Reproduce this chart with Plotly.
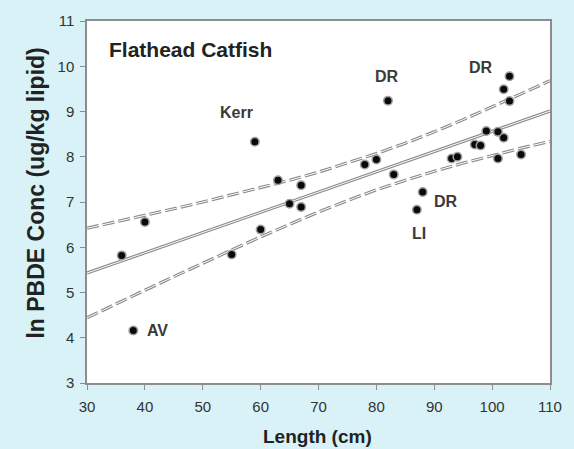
import plotly.graph_objects as go

# Observed fish data
length_cm = [36, 40, 38, 55, 60, 59, 63, 65, 67, 67, 78, 80, 82, 83, 88, 87,
             93, 94, 97, 98, 99, 101, 102, 103, 102, 103, 101, 105]
ln_pbde = [5.82, 6.56, 4.16, 5.84, 6.39, 8.33, 7.48, 6.96, 7.37, 6.89, 7.83, 7.94,
           9.24, 7.61, 7.22, 6.83, 7.96, 8.00, 8.27, 8.25, 8.57, 8.55, 8.42, 9.78,
           9.49, 9.23, 7.96, 8.05]

# Regression line and confidence band
fit_x = [30, 110]
fit_y = [5.43, 9.01]
band_x = [30, 35, 40, 45, 50, 55, 60, 65, 70, 75, 80, 85, 90, 95, 100, 105, 110]
band_upper = [6.42, 6.56, 6.71, 6.85, 7.00, 7.16, 7.32, 7.48, 7.66, 7.86, 8.07,
              8.30, 8.55, 8.82, 9.10, 9.39, 9.68]
band_lower = [4.44, 4.75, 5.05, 5.35, 5.65, 5.94, 6.23, 6.51, 6.78, 7.03, 7.27,
              7.48, 7.68, 7.86, 8.03, 8.19, 8.34]

# Point labels
label_text = ["Kerr", "DR", "DR", "DR", "LI", "AV"]
label_x = [55.8, 81.9, 98.0, 92.0, 87.4, 42.2]
label_y = [8.97, 9.77, 9.97, 7.02, 6.30, 4.16]

x_ticks = [30, 40, 50, 60, 70, 80, 90, 100, 110]
y_ticks = [3, 4, 5, 6, 7, 8, 9, 10, 11]

FONT = "Liberation Sans, Arial, sans-serif"
fig = go.Figure()

def hollow_line(x, y, dash):
    fig.add_trace(go.Scatter(x=x, y=y, mode="lines",
                             line=dict(color="#8a8a8a", width=3.2, dash=dash),
                             hoverinfo="skip", showlegend=False))
    fig.add_trace(go.Scatter(x=x, y=y, mode="lines",
                             line=dict(color="#ffffff", width=1.0, dash=dash),
                             hoverinfo="skip", showlegend=False))

hollow_line(band_x, band_upper, "12px,4px")
hollow_line(band_x, band_lower, "12px,4px")
hollow_line(fit_x, fit_y, "solid")

fig.add_trace(go.Scatter(
    x=length_cm, y=ln_pbde, mode="markers",
    marker=dict(size=8.5, color="#0a0a0a", line=dict(color="#a0a0a0", width=1.5)),
    showlegend=False))

for t, xx, yy in zip(label_text, label_x, label_y):
    fig.add_annotation(x=xx, y=yy, text="<b>" + t + "</b>", showarrow=False,
                       xanchor="center", yanchor="middle",
                       font=dict(family=FONT, size=16, color="#3a3a3a"))

fig.add_annotation(x=33.4, y=10.36, text="<b>Flathead Catfish</b>", showarrow=False,
                   xanchor="left", yanchor="middle",
                   font=dict(family=FONT, size=21, color="#222222"))

# Axis titles
fig.add_annotation(xref="paper", yref="paper", x=0.497, y=-0.148,
                   text="<b>Length (cm)</b>", showarrow=False,
                   xanchor="center", yanchor="middle",
                   font=dict(family=FONT, size=19, color="#222222"))
fig.add_annotation(xref="paper", yref="paper", x=-0.111, y=0.525,
                   text="<b>ln PBDE Conc (ug/kg lipid)</b>", showarrow=False,
                   textangle=-90, xanchor="center", yanchor="middle",
                   font=dict(family=FONT, size=23, color="#222222"))

axis_common = dict(showgrid=False, zeroline=False, showline=True, mirror=True,
                   linecolor="#8c8c8c", linewidth=1.5, ticks="outside",
                   ticklen=5, tickcolor="#8c8c8c", tickwidth=1.2,
                   tickfont=dict(family=FONT, size=15, color="#333333"))

fig.update_layout(
    width=574, height=449,
    margin=dict(l=87, r=17, t=17, b=66),
    paper_bgcolor="#d9f2f7", plot_bgcolor="#ffffff",
    xaxis=dict(range=[30, 110], tickvals=x_ticks, ticklabelstandoff=4, **axis_common),
    yaxis=dict(range=[3, 11], tickvals=y_ticks, ticklabelstandoff=3, **axis_common),
)

fig.write_html("out.html", config={"displayModeBar": False},
               post_script="document.body.style.margin='0';document.body.style.padding='0';")
